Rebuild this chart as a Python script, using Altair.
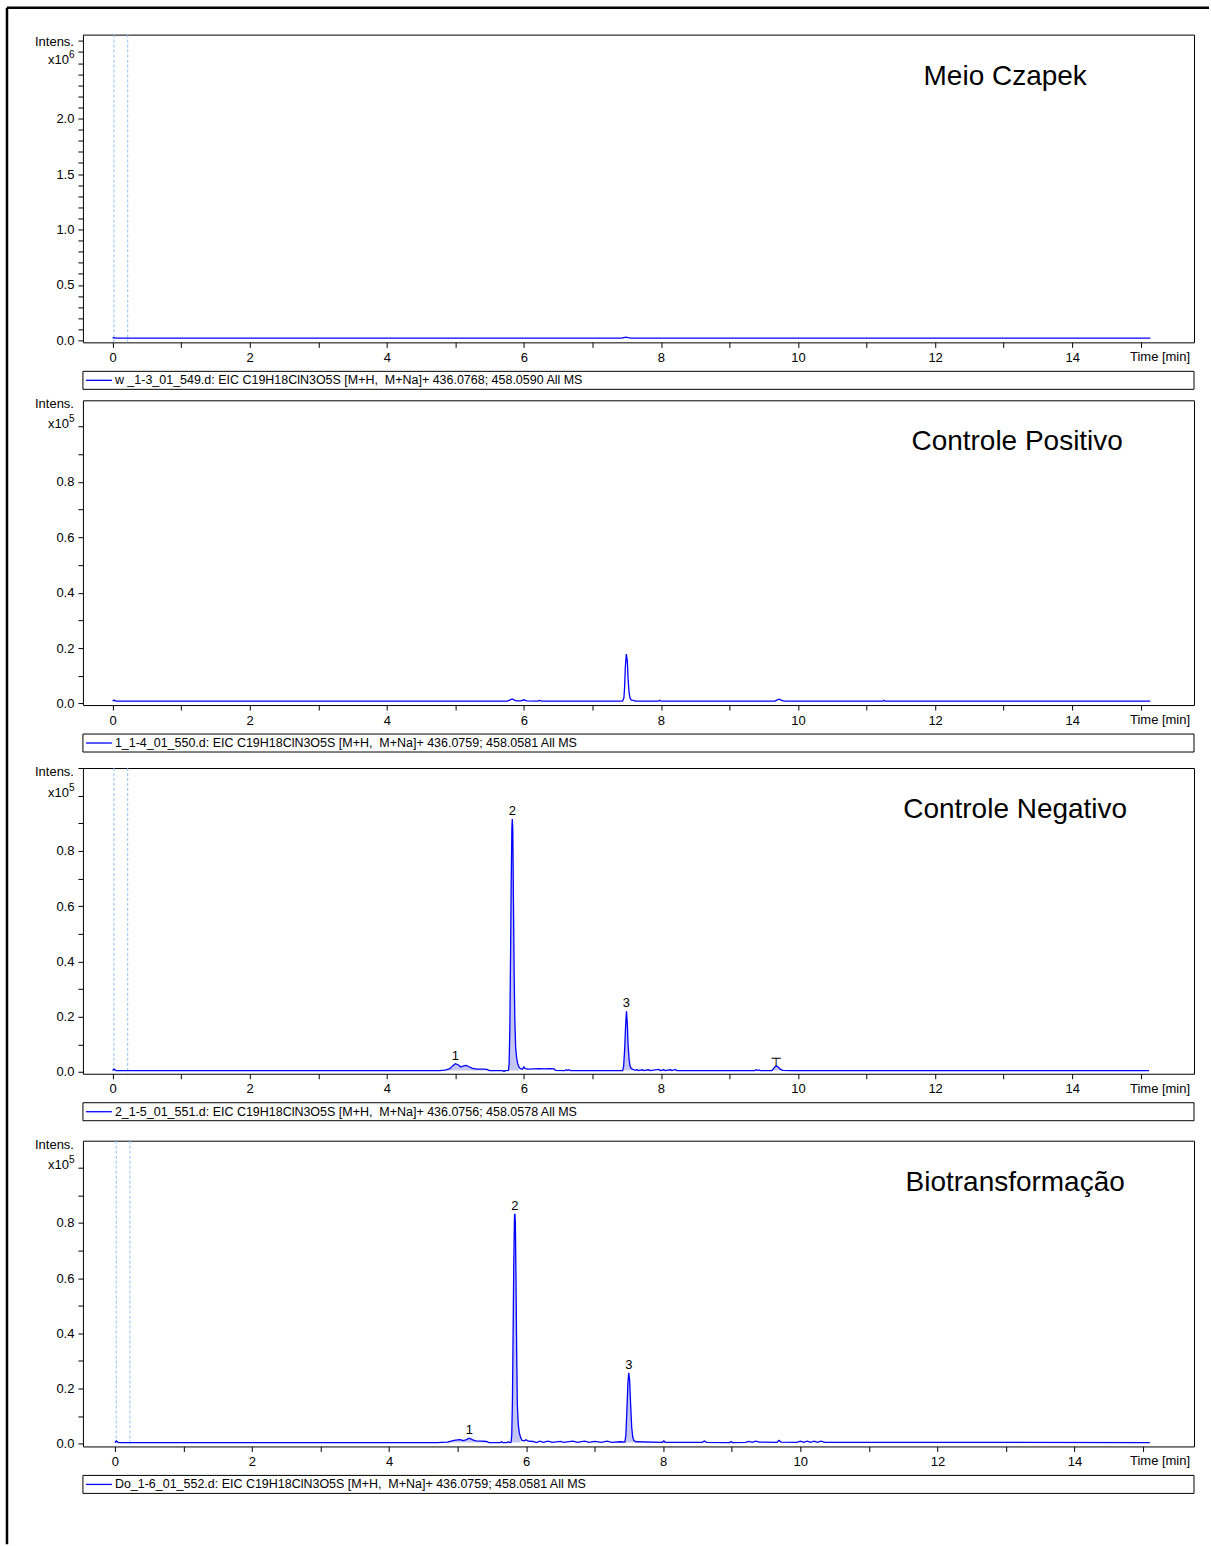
import altair as alt
import pandas as pd

# ------------------------------------------------------------------ data
TITLES = ["Meio Czapek", "Controle Positivo", "Controle Negativo", "Biotransformação"]
LEGENDS = [
    "w _1-3_01_549.d: EIC C19H18ClN3O5S [M+H,\u00a0 M+Na]+ 436.0768; 458.0590 All MS",
    "1_1-4_01_550.d: EIC C19H18ClN3O5S [M+H,\u00a0 M+Na]+ 436.0759; 458.0581 All MS",
    "2_1-5_01_551.d: EIC C19H18ClN3O5S [M+H,\u00a0 M+Na]+ 436.0756; 458.0578 All MS",
    "Do_1-6_01_552.d: EIC C19H18ClN3O5S [M+H,\u00a0 M+Na]+ 436.0759; 458.0581 All MS",
]
EXPONENTS = ["6", "5", "5", "5"]
EXP_TICK = [2.5, 1.0, 1.0, 1.0]

X_TICKS = [0, 1, 2, 3, 4, 5, 6, 7, 8, 9, 10, 11, 12, 13, 14, 15]
Y_TICKS_A = [0.0, 0.1, 0.2, 0.3, 0.4, 0.5, 0.6, 0.7, 0.8, 0.9, 1.0, 1.1, 1.2, 1.3,
             1.4, 1.5, 1.6, 1.7, 1.8, 1.9, 2.0, 2.1, 2.2, 2.3, 2.4, 2.5, 2.6, 2.7]
Y_TICKS_B = [0.0, 0.1, 0.2, 0.3, 0.4, 0.5, 0.6, 0.7, 0.8, 0.9, 1.0, 1.1]

# time (min), intensity (x10^6 for panel 1, x10^5 for the others)
P1_TRACE = [(0.00, 0.020), (0.02, 0.024), (0.05, 0.020), (7.42, 0.020), (7.46, 0.025),
            (7.49, 0.029), (7.52, 0.024), (7.56, 0.020), (15.14, 0.020)]

P2_TRACE = [(0.00, 0.008), (0.02, 0.012), (0.05, 0.008), (5.76, 0.008), (5.80, 0.013),
            (5.83, 0.016), (5.86, 0.012), (5.90, 0.009), (5.96, 0.009), (6.00, 0.013),
            (6.04, 0.009), (6.20, 0.008), (6.23, 0.011), (6.26, 0.008), (7.44, 0.008),
            (7.46, 0.020), (7.47, 0.060), (7.48, 0.130), (7.495, 0.178), (7.51, 0.150),
            (7.52, 0.090), (7.535, 0.040), (7.55, 0.018), (7.57, 0.012), (7.60, 0.011),
            (7.63, 0.008), (7.96, 0.008), (7.98, 0.011), (8.00, 0.008), (9.66, 0.008),
            (9.70, 0.013), (9.73, 0.015), (9.76, 0.011), (9.80, 0.008), (11.23, 0.008),
            (11.25, 0.011), (11.27, 0.008), (15.14, 0.008)]

P3_TRACE = [(0.00, 0.005), (0.02, 0.010), (0.05, 0.005),
            (4.77, 0.005), (4.85, 0.007), (4.92, 0.012), (4.96, 0.022), (5.00, 0.030),
            (5.04, 0.026), (5.08, 0.018), (5.12, 0.022), (5.16, 0.024), (5.20, 0.019),
            (5.25, 0.013), (5.32, 0.010), (5.40, 0.010), (5.46, 0.009), (5.50, 0.005),
            (5.69, 0.005), (5.71, 0.002), (5.73, 0.005),
            (5.775, 0.006), (5.785, 0.030), (5.795, 0.150), (5.805, 0.400), (5.815, 0.680),
            (5.825, 0.880), (5.831, 0.915), (5.838, 0.880), (5.848, 0.620), (5.858, 0.360),
            (5.868, 0.190), (5.88, 0.090), (5.895, 0.050), (5.91, 0.030), (5.93, 0.017),
            (5.95, 0.012), (5.98, 0.010), (6.00, 0.018), (6.02, 0.012), (6.06, 0.010),
            (6.15, 0.011), (6.22, 0.012), (6.30, 0.011), (6.38, 0.012), (6.44, 0.011),
            (6.46, 0.006), (6.60, 0.005), (6.62, 0.008), (6.64, 0.005), (6.66, 0.008),
            (6.68, 0.005),
            (7.44, 0.005), (7.455, 0.020), (7.47, 0.080), (7.485, 0.170), (7.497, 0.220),
            (7.51, 0.170), (7.52, 0.100), (7.535, 0.045), (7.55, 0.020), (7.57, 0.012),
            (7.60, 0.008), (7.63, 0.006),
            (7.65, 0.009), (7.67, 0.005), (7.73, 0.008), (7.75, 0.005), (7.82, 0.008),
            (7.84, 0.005), (7.97, 0.009), (7.99, 0.005), (8.04, 0.008), (8.06, 0.005),
            (8.14, 0.008), (8.16, 0.005), (8.21, 0.009), (8.23, 0.005),
            (9.37, 0.005), (9.39, 0.008), (9.41, 0.005), (9.43, 0.007), (9.45, 0.005),
            (9.62, 0.005), (9.65, 0.015), (9.68, 0.022), (9.71, 0.018), (9.74, 0.010),
            (9.78, 0.006), (9.91, 0.005),
            (15.12, 0.005)]

P4_TRACE = [(0.00, 0.004), (0.02, 0.010), (0.05, 0.004),
            (4.70, 0.004), (4.85, 0.006), (4.95, 0.012), (5.00, 0.014), (5.04, 0.015),
            (5.08, 0.011), (5.12, 0.014), (5.17, 0.020), (5.22, 0.014), (5.27, 0.010),
            (5.35, 0.009), (5.42, 0.008), (5.46, 0.004),
            (5.62, 0.004), (5.64, 0.007), (5.66, 0.004), (5.72, 0.004), (5.74, 0.007),
            (5.76, 0.004),
            (5.78, 0.005), (5.79, 0.030), (5.80, 0.150), (5.81, 0.400), (5.82, 0.660),
            (5.83, 0.820), (5.836, 0.834), (5.843, 0.800), (5.852, 0.600), (5.862, 0.330),
            (5.872, 0.140), (5.885, 0.070), (5.90, 0.040), (5.92, 0.022), (5.94, 0.012),
            (5.97, 0.010), (6.00, 0.014), (6.03, 0.009),
            (6.10, 0.008), (6.15, 0.004), (6.20, 0.009), (6.25, 0.005), (6.32, 0.009),
            (6.38, 0.005), (6.50, 0.008), (6.55, 0.005), (6.68, 0.009), (6.75, 0.005),
            (6.85, 0.009), (6.92, 0.005), (7.00, 0.008), (7.10, 0.005), (7.18, 0.009),
            (7.25, 0.005), (7.38, 0.007),
            (7.44, 0.006), (7.455, 0.030), (7.47, 0.120), (7.485, 0.220), (7.497, 0.257),
            (7.51, 0.230), (7.525, 0.140), (7.54, 0.060), (7.555, 0.025), (7.57, 0.012),
            (7.60, 0.007),
            (7.99, 0.005), (8.01, 0.010), (8.03, 0.005), (8.57, 0.005), (8.60, 0.010),
            (8.63, 0.005), (8.97, 0.004), (8.99, 0.008), (9.01, 0.004), (9.20, 0.005),
            (9.25, 0.008), (9.30, 0.005), (9.35, 0.009), (9.40, 0.006), (9.66, 0.005),
            (9.69, 0.012), (9.72, 0.006), (9.95, 0.005), (10.00, 0.009), (10.05, 0.005),
            (10.10, 0.009), (10.15, 0.005), (10.20, 0.009), (10.25, 0.005), (10.30, 0.009),
            (10.36, 0.005),
            (15.10, 0.004)]

TRACES = [P1_TRACE, P2_TRACE, P3_TRACE, P4_TRACE]

# integrated peak windows (start, end) and their baseline
FILLS = [[], [], [(4.77, 5.50), (5.775, 5.93), (7.44, 7.58), (9.62, 9.91)],
         [(4.70, 5.46), (5.78, 5.93), (7.44, 7.60)]]
FILL_BASE = [0.02, 0.008, 0.005, 0.004]

# peak labels
PEAK_T = [[], [], [5.00, 5.831, 7.497, 9.68], [5.17, 5.836, 7.497]]
PEAK_V = [[], [], [0.030, 0.915, 0.220, 0.022], [0.020, 0.834, 0.257]]
PEAK_TXT = [[], [], ["1", "2", "3", "┬"], ["1", "2", "3"]]

# dashed marker lines
DASHED = [[0.02, 0.22], [], [0.02, 0.22], [0.02, 0.22]]

# ------------------------------------------------------------------ layout
W = 1112
HEIGHTS = [308, 305, 306, 306]
GAPS = [58, 63, 67]
X_DOMAINS = [[-0.433, 15.777], [-0.433, 15.777], [-0.433, 15.777], [-0.466, 15.744]]
Y_DOMAINS = [[-0.018, 2.757], [-0.006, 1.095], [-0.0065, 1.1], [-0.01, 1.098]]
TITLE_X = [923, 935, 933, 933]
INTENS_Y = [7, 4, 4, 4]

FONT = "Liberation Sans"
BLUE = "#0000ff"
FILL = "#c6c6f3"
DASHC = "#8fc0f2"
TITLE_SIZE = 28

one = pd.DataFrame({"a": [0]})


def panel(i):
    h = HEIGHTS[i]
    df = pd.DataFrame(TRACES[i], columns=["t", "v"])
    xs = alt.Scale(domain=X_DOMAINS[i], nice=False, zero=False)
    ys = alt.Scale(domain=Y_DOMAINS[i], nice=False, zero=False)
    xax = alt.Axis(values=X_TICKS, title=None, labelOverlap=False,
                   labelExpr="datum.value % 2 == 0 && datum.value <= 14 ? datum.label : ''")
    if i == 0:
        yexpr = "round(datum.value*10) % 5 == 0 && datum.value < 2.45 ? format(datum.value, '.1f') : ''"
        yticks = Y_TICKS_A
    else:
        yexpr = "round(datum.value*10) % 2 == 0 && datum.value < 0.95 ? format(datum.value, '.1f') : ''"
        yticks = Y_TICKS_B
    yax = alt.Axis(values=yticks, title=None, labelOverlap=False, labelExpr=yexpr)
    X = alt.X("t:Q", scale=xs, axis=xax)
    Y = alt.Y("v:Q", scale=ys, axis=yax)

    layers = []
    if FILLS[i]:
        rows = []
        for k, (a, b) in enumerate(FILLS[i]):
            for t, v in TRACES[i]:
                if a - 1e-9 <= t <= b + 1e-9:
                    rows.append({"t": t, "v": v, "seg": k})
        fdf = pd.DataFrame(rows)
        layers.append(alt.Chart(fdf).mark_area(color=FILL, opacity=1, interpolate="linear")
                      .encode(x=X, y=Y, y2=alt.datum(FILL_BASE[i]), detail="seg:N"))
    if DASHED[i]:
        ddf = pd.DataFrame({"t": DASHED[i]})
        layers.append(alt.Chart(ddf).mark_rule(color=DASHC, strokeDash=[3, 2], strokeWidth=1)
                      .encode(x=X))
    layers.append(alt.Chart(df).mark_line(color=BLUE, strokeWidth=1.3).encode(x=X, y=Y))
    if PEAK_T[i]:
        pdf = pd.DataFrame({"t": PEAK_T[i], "v": PEAK_V[i], "txt": PEAK_TXT[i]})
        layers.append(alt.Chart(pdf).mark_text(fontSize=13, color="black", baseline="alphabetic", dy=-4)
                      .encode(x=X, y=Y, text="txt:N"))
    # title
    layers.append(alt.Chart(one).mark_text(fontSize=TITLE_SIZE, color="black", align="center",
                                           baseline="middle")
                  .encode(x=alt.value(TITLE_X[i]), y=alt.value(42), text=alt.value(TITLES[i])))
    # Intens. / x10^n
    layers.append(alt.Chart(one).mark_text(fontSize=13, color="black", align="right", baseline="middle")
                  .encode(x=alt.value(-9), y=alt.value(INTENS_Y[i]), text=alt.value("Intens.")))
    layers.append(alt.Chart(one).mark_text(fontSize=13, color="black", align="right", baseline="middle", dy=-3)
                  .encode(x=alt.value(-14), y=alt.YDatum(EXP_TICK[i], scale=ys, axis=yax),
                          text=alt.value("x10")))
    layers.append(alt.Chart(one).mark_text(fontSize=10, color="black", align="left", baseline="middle", dy=-8)
                  .encode(x=alt.value(-14), y=alt.YDatum(EXP_TICK[i], scale=ys, axis=yax),
                          text=alt.value(EXPONENTS[i])))
    # axis title at the end of the x axis
    layers.append(alt.Chart(one).mark_text(fontSize=13, color="black", align="center", baseline="middle")
                  .encode(x=alt.value(1078), y=alt.value(h + 15), text=alt.value("Time [min]")))
    # legend box
    layers.append(alt.Chart(one).mark_rect(fill="white", stroke="black", strokeWidth=1)
                  .encode(x=alt.value(0), x2=alt.value(W), y=alt.value(h + 29), y2=alt.value(h + 47)))
    layers.append(alt.Chart(one).mark_rule(color=BLUE, strokeWidth=1.3)
                  .encode(x=alt.value(3), x2=alt.value(29), y=alt.value(h + 38)))
    layers.append(alt.Chart(one).mark_text(fontSize=12.5, color="black", align="left", baseline="middle")
                  .encode(x=alt.value(32), y=alt.value(h + 38), text=alt.value(LEGENDS[i])))
    if i == 0:
        layers.append(alt.Chart(one).mark_rule(color="black", strokeWidth=2.5)
                      .encode(x=alt.value(-76), x2=alt.value(1127), y=alt.value(-27)))
        layers.append(alt.Chart(one).mark_rule(color="black", strokeWidth=2.5)
                      .encode(x=alt.value(-76), y=alt.value(-27), y2=alt.value(1511)))
    return alt.layer(*layers).properties(width=W, height=h)


def spacer(g):
    return (alt.Chart(one).mark_point(opacity=0)
            .encode(x=alt.value(0), y=alt.value(0))
            .properties(width=W, height=g, view=alt.ViewBackground(stroke="transparent")))


items = []
for i in range(4):
    items.append(panel(i))
    if i < 3:
        items.append(spacer(GAPS[i]))

chart = (alt.vconcat(*items, spacing=0, bounds="flush")
         .properties(padding={"left": 5, "top": 5, "right": 0, "bottom": 0}, background="white")
         .configure_view(stroke="black", strokeWidth=1)
         .configure_axis(labelFont=FONT, labelFontSize=13, labelColor="black", tickColor="black",
                         tickSize=5, tickWidth=1, domain=False, grid=False, labelPadding=4)
         .configure_text(font=FONT))

chart.save("out.html", embed_options={"renderer": "svg", "actions": False})
